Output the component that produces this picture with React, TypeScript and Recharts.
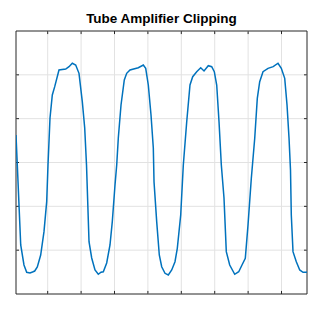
import React from 'react';
import { LineChart, Line, XAxis, YAxis, ReferenceLine, ReferenceArea } from 'recharts';

// time (grid units) and amplitude
const timeMs = [
  0.051, 0.09, 0.192, 0.29, 0.371, 0.47, 0.545, 0.611, 0.689, 0.79, 0.889, 0.97,
  1.009, 1.069, 1.138, 1.21, 1.338, 1.539, 1.638, 1.737, 1.838, 1.937, 2.036, 2.108,
  2.162, 2.237, 2.317, 2.416, 2.515, 2.596, 2.665, 2.766, 2.865, 2.934, 3.015, 3.066,
  3.114, 3.195, 3.293, 3.365, 3.464, 3.713, 3.862, 3.934, 4.012, 4.093, 4.162, 4.183,
  4.263, 4.341, 4.413, 4.512, 4.611, 4.713, 4.811, 4.88, 4.982, 5.06, 5.162, 5.26,
  5.341, 5.461, 5.581, 5.68, 5.808, 5.91, 5.988, 6.06, 6.129, 6.198, 6.278, 6.347,
  6.449, 6.599, 6.719, 6.817, 6.916, 6.997, 7.096, 7.198, 7.275, 7.347, 7.446, 7.596,
  7.751, 7.895, 7.994, 8.096, 8.165, 8.225, 8.269, 8.293, 8.344, 8.443, 8.545, 8.644,
  8.743, 8.763,
];
const amplitude = [
  0.314, -0.029, -0.941, -1.169, -1.252, -1.26, -1.249, -1.238, -1.192, -1.055, -0.789, -0.447,
  -0.029, 0.508, 0.77, 0.865, 1.055, 1.066, 1.093, 1.132, 1.112, 1.017, 0.694, 0.394,
  -0.029, -0.903, -1.089, -1.226, -1.275, -1.252, -1.246, -1.146, -0.941, -0.675, -0.257, -0.029,
  0.279, 0.656, 0.941, 1.017, 1.055, 1.081, 1.112, 1.074, 0.884, 0.542, 0.165, -0.219,
  -0.675, -1.055, -1.189, -1.264, -1.283, -1.226, -1.132, -0.979, -0.599, -0.029, 0.465, 0.884,
  0.979, 1.036, 1.081, 1.044, 1.104, 1.093, 1.036, 0.884, 0.465, -0.029, -0.405, -1.017,
  -1.169, -1.275, -1.246, -1.169, -1.093, -0.713, -0.18, 0.276, 0.732, 0.922, 1.036, 1.074,
  1.093, 1.132, 1.074, 0.96, 0.656, 0.276, -0.086, -0.599, -1.017, -1.132, -1.226, -1.252,
  -1.252, -1.249,
];
const xTicks = [1, 2, 3, 4, 5, 6, 7, 8];
const yTicks = [-1, -0.5, 0, 0.5, 1];

const data = timeMs.map((t, i) => ({ t, v: amplitude[i] }));

const AXIS = '#262626';
const GRID = '#e2e2e2';
const X_MIN = 0.051;
const X_MAX = 8.763;
const Y_MIN = -1.5;
const Y_MAX = 1.5;
const X_TICK_LEN = 0.09;
const Y_TICK_LEN = 0.035;

export default function App() {
  return (
    <div style={{ position: 'absolute', left: 0, top: 0, width: 324, height: 313, background: '#fff' }}>
      <div
        style={{
          position: 'absolute',
          left: 16,
          width: 291,
          top: 12,
          lineHeight: '14px',
          textAlign: 'center',
          fontFamily: '"Liberation Sans", Arial, sans-serif',
          fontWeight: 'bold',
          fontSize: 13.5,
          color: '#000',
        }}
      >
        Tube Amplifier Clipping
      </div>
      <LineChart width={324} height={313} data={data} margin={{ top: 31, right: 17, bottom: 19, left: 16 }}>
        <XAxis dataKey="t" type="number" domain={[X_MIN, X_MAX]} allowDataOverflow hide />
        <YAxis type="number" domain={[Y_MIN, Y_MAX]} allowDataOverflow hide />
        {xTicks.map((x) => (
          <ReferenceLine key={`gx${x}`} x={x} stroke={GRID} strokeWidth={1} />
        ))}
        {yTicks.map((y) => (
          <ReferenceLine key={`gy${y}`} y={y} stroke={GRID} strokeWidth={1} />
        ))}
        {xTicks.map((x) => (
          <ReferenceLine
            key={`tb${x}`}
            segment={[{ x, y: Y_MIN }, { x, y: Y_MIN + Y_TICK_LEN }]}
            stroke={AXIS}
          />
        ))}
        {xTicks.map((x) => (
          <ReferenceLine
            key={`tt${x}`}
            segment={[{ x, y: Y_MAX }, { x, y: Y_MAX - Y_TICK_LEN }]}
            stroke={AXIS}
          />
        ))}
        {yTicks.map((y) => (
          <ReferenceLine
            key={`tl${y}`}
            segment={[{ x: X_MIN, y }, { x: X_MIN + X_TICK_LEN, y }]}
            stroke={AXIS}
          />
        ))}
        {yTicks.map((y) => (
          <ReferenceLine
            key={`tr${y}`}
            segment={[{ x: X_MAX, y }, { x: X_MAX - X_TICK_LEN, y }]}
            stroke={AXIS}
          />
        ))}
        <Line
          dataKey="v"
          type="linear"
          stroke="#0072BD"
          strokeWidth={1.5}
          dot={false}
          isAnimationActive={false}
        />
        <ReferenceArea
          x1={X_MIN}
          x2={X_MAX}
          y1={Y_MIN}
          y2={Y_MAX}
          stroke={AXIS}
          strokeWidth={1}
          fill="none"
          fillOpacity={0}
        />
      </LineChart>
    </div>
  );
}
